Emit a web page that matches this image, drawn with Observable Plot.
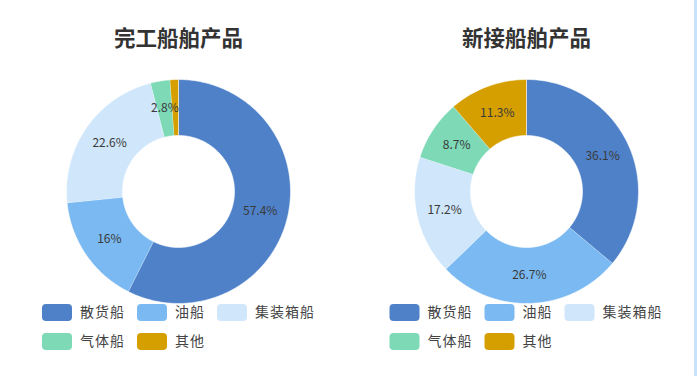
<!DOCTYPE html>
<html>
<head>
<meta charset="utf-8">
<script src="https://cdn.jsdelivr.net/npm/d3@7"></script>
<script src="https://cdn.jsdelivr.net/npm/@observablehq/plot@0.6"></script>
<style>
  html, body { margin: 0; padding: 0; background: #fff; }
  #wrap { position: relative; width: 697px; height: 376px; overflow: hidden; }
  #edge { position: absolute; right: 0; top: 0; width: 3px; height: 376px; background: #c9e2fb; }
  svg { display: block; }
  .legend-text text { letter-spacing: 1px; }
</style>
</head>
<body>
<div id="wrap"><div id="chart"></div><div id="edge"></div></div>
<script>
// ---- data ----
const categories = ["散货船", "油船", "集装箱船", "气体船", "其他"];
const colors = ["#4f81c9", "#7ab9f1", "#cfe6fb", "#7dd9b6", "#d59f00"];
const titles = ["完工船舶产品", "新接船舶产品"];
const completedShares = [57.4, 16, 22.6, 2.8, 1.2];
const newOrderShares = [36.1, 26.7, 17.2, 8.7, 11.3];
const seriesValues = [completedShares, newOrderShares];

// ---- layout ----
const W = 697, H = 376;
const centersX = [178, 526];
const centerY = 191;
const outerR = 112, innerR = 56;
const legendX0 = [42, 389.5];
const legendCol = [0, 95, 175];
const legendRowY = [312.5, 341.5];
const swW = 30, swH = 17;

const polys = [];
const labels = [];
const titleRows = [];
const legendRows = [];

seriesValues.forEach((vals, c) => {
  const total = d3.sum(vals);
  let acc = 0;
  const cx = centersX[c];
  vals.forEach((v, i) => {
    const a0 = acc / total * 2 * Math.PI;
    const a1 = (acc + v) / total * 2 * Math.PI;
    acc += v;
    const n = Math.max(2, Math.ceil((a1 - a0) / 0.01));
    const id = c + "-" + i;
    for (let k = 0; k <= n; k++) {
      const a = a0 + (a1 - a0) * k / n;
      polys.push({id, cat: categories[i], x: cx + outerR * Math.sin(a), y: centerY - outerR * Math.cos(a)});
    }
    for (let k = n; k >= 0; k--) {
      const a = a0 + (a1 - a0) * k / n;
      polys.push({id, cat: categories[i], x: cx + innerR * Math.sin(a), y: centerY - innerR * Math.cos(a)});
    }
    const am = (a0 + a1) / 2, rm = (outerR + innerR) / 2;
    if (v >= 2) labels.push({x: cx + rm * Math.sin(am), y: centerY - rm * Math.cos(am), text: v + "%"});
  });
  titleRows.push({x: cx, y: 38.5, text: titles[c]});
  categories.forEach((cat, i) => {
    const row = i < 3 ? 0 : 1;
    const col = i < 3 ? i : i - 3;
    const x = legendX0[c] + legendCol[col];
    const y = legendRowY[row];
    legendRows.push({cat, x1: x, x2: x + swW, y1: y - swH / 2, y2: y + swH / 2, tx: x + 37.5, ty: y});
  });
});

const font = "'Noto Sans CJK SC', 'Noto Sans', sans-serif";

const plot = Plot.plot({
  width: W,
  height: H,
  margin: 0,
  style: {fontFamily: font, background: "#fff"},
  x: {domain: [0, W], range: [0, W], axis: null},
  y: {domain: [0, H], range: [0, H], axis: null},
  color: {domain: categories, range: colors},
  marks: [
    Plot.line(polys, {x: "x", y: "y", z: "id", fill: "cat", stroke: "white", strokeWidth: 0.6, curve: "linear"}),
    Plot.text(labels, {x: "x", y: "y", text: "text", fontSize: 12, fill: "#3a3a3a"}),
    Plot.text(titleRows, {x: "x", y: "y", text: "text", fontSize: 21.5, fontWeight: "bold", fill: "#333"}),
    Plot.rect(legendRows, {x1: "x1", x2: "x2", y1: "y1", y2: "y2", fill: "cat", rx: 4}),
    Plot.text(legendRows, {x: "tx", y: "ty", text: "cat", textAnchor: "start", fontSize: 14, fill: "#444", className: "legend-text"})
  ]
});
document.getElementById("chart").appendChild(plot);
</script>
</body>
</html>
